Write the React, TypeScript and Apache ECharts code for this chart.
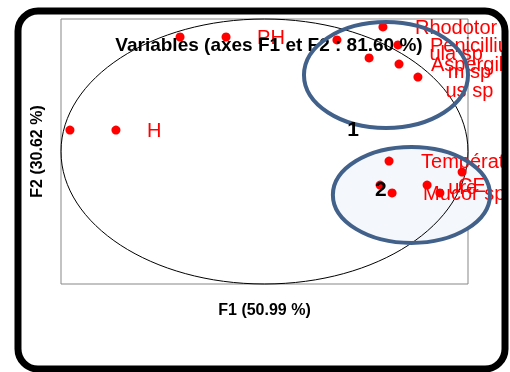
import React, { useEffect, useRef } from 'react';
import * as echarts from 'echarts';

// Variable labels as displayed (wrapped like the reference); '' = unlabeled point
const labels = ['', 'H', '', 'PH', '', 'Rhodotor\nula sp', 'Penicilliu\nm sp', '', 'Aspergill\nus sp', '', 'Températ\nure', '', '', 'Mucor sp', 'CE', ''];
const f1 = [-0.956, -0.730, -0.415, -0.189, 0.356, 0.582, 0.656, 0.514, 0.661, 0.754, 0.612, 0.971, 0.568, 0.627, 0.799, 0.862];
const f2 = [0.162, 0.162, 0.864, 0.864, 0.842, 0.940, 0.804, 0.706, 0.660, 0.562, -0.072, -0.155, -0.253, -0.313, -0.253, -0.313];

const titleText = 'Variables (axes F1 et F2 : 81.60 %)';
const xName = 'F1 (50.99 %)';
const yName = 'F2 (30.62 %)';

// cluster annotations (data coordinates)
const clusterIds = ['1', '2'];
const clusterCenters = [[0.597, 0.577], [0.722, -0.328]];
const clusterRadii = [[0.403, 0.40], [0.386, 0.362]];
const clusterIdPos = [[0.435, 0.17], [0.572, -0.283]];

const FONT = 'Liberation Sans';
const LABEL_SIZE = 20;

export default function App() {
  const ref = useRef<HTMLDivElement>(null);
  useEffect(() => {
    const chart = echarts.init(ref.current!, null, { renderer: 'svg' });
    const canvas = document.createElement('canvas');
    const ctx = canvas.getContext('2d')!;
    ctx.font = `${LABEL_SIZE}px "${FONT}"`;
    const data = f1.map((x, i) => {
      const name = labels[i];
      const lines = name.split('\n');
      const w = ctx.measureText(lines[0]).width;
      const label = lines.length > 1
        ? { align: 'center', verticalAlign: 'top', offset: [32 + w / 2, -13] }
        : { align: 'left', verticalAlign: 'middle', offset: [31, 0] };
      return { value: [x, f2[i]], name, label };
    });
    chart.setOption({
      animation: false,
      title: {
        text: titleText,
        left: 264,
        top: 30,
        textAlign: 'center',
        textStyle: { fontFamily: FONT, fontSize: 19, fontWeight: 'bold', color: '#000' },
      },
      grid: { left: 61, top: 19, width: 407, height: 265, show: true, borderColor: '#878787', borderWidth: 1, backgroundColor: 'transparent' },
      xAxis: {
        type: 'value', min: -1, max: 1,
        name: xName, nameLocation: 'middle', nameGap: 17,
        nameTextStyle: { fontFamily: FONT, fontSize: 16, fontWeight: 'bold', color: '#000' },
        axisLine: { show: false }, axisTick: { show: false }, axisLabel: { show: false }, splitLine: { show: false },
      },
      yAxis: {
        type: 'value', min: -1, max: 1,
        name: yName, nameLocation: 'middle', nameGap: 17,
        nameTextStyle: { fontFamily: FONT, fontSize: 16, fontWeight: 'bold', color: '#000' },
        axisLine: { show: false }, axisTick: { show: false }, axisLabel: { show: false }, splitLine: { show: false },
      },
      series: [{
        type: 'scatter',
        symbolSize: 9,
        itemStyle: { color: '#ff0000', opacity: 1 },
        z: 3,
        label: {
          show: true, position: 'inside', formatter: '{b}',
          fontFamily: FONT, fontSize: LABEL_SIZE, lineHeight: 26, color: '#ff0000',
        },
        data,
      }],
    });

    const px = (p: number[]) => chart.convertToPixel({ gridIndex: 0 }, p) as number[];
    const o = px([0, 0]);
    const u = px([1, 1]);
    const sx = u[0] - o[0];
    const sy = o[1] - u[1];
    const graphics: any[] = [
      {
        type: 'ellipse', silent: true, z: 1,
        shape: { cx: o[0], cy: o[1], rx: sx, ry: sy },
        style: { fill: 'none', stroke: '#000', lineWidth: 1 },
      },
    ];
    clusterCenters.forEach((c, i) => {
      const p = px(c);
      const rx = clusterRadii[i][0] * sx;
      const ry = clusterRadii[i][1] * sy;
      if (i === 1) {
        graphics.push({
          type: 'ellipse', silent: true, z: 0,
          shape: { cx: p[0], cy: p[1], rx, ry },
          style: { fill: '#f4f7fb', stroke: 'none' },
        });
      }
      graphics.push({
        type: 'ellipse', silent: true, z: 20,
        shape: { cx: p[0], cy: p[1], rx, ry },
        style: { fill: 'none', stroke: '#41618b', lineWidth: 4 },
      });
      const t = px(clusterIdPos[i]);
      graphics.push({
        type: 'text', silent: true, z: 21, x: t[0], y: t[1],
        style: { text: clusterIds[i], fontFamily: FONT, fontSize: 21, fontWeight: 'bold', fill: '#000', align: 'center', verticalAlign: 'middle' },
      });
    });
    graphics.push({
      type: 'rect', silent: true, z: 30,
      shape: { x: 18, y: 11, width: 487, height: 358, r: 20 },
      style: { fill: 'none', stroke: '#000', lineWidth: 7 },
    });
    chart.setOption({ graphic: graphics });
    return () => chart.dispose();
  }, []);
  return <div ref={ref} style={{ position: 'fixed', left: 0, top: 0, width: 510, height: 372 }} />;
}
